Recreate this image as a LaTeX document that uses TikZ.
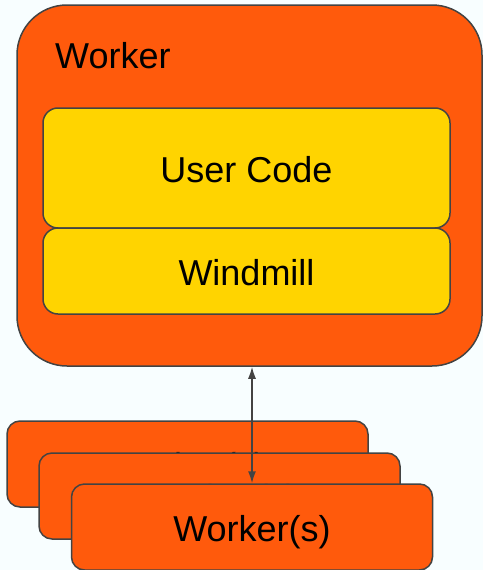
\documentclass[tikz,border=0pt]{standalone}
\usepackage{fontspec}
\setmainfont{Liberation Sans}
\usepackage{xcolor}
\usepackage{tikz}
\usetikzlibrary{arrows.meta}
\definecolor{wbg}{HTML}{F8FEFF}
\definecolor{worange}{HTML}{FF5A0C}
\definecolor{wyellow}{HTML}{FFD400}
\definecolor{wline}{HTML}{434343}

\begin{document}
\begin{tikzpicture}[x=1pt,y=-1pt,
   box/.style={draw=wline,line width=1.5pt,fill=worange,rounded corners=13pt,minimum width=361pt,minimum height=86pt,inner sep=0pt,text height=28.5pt,text depth=0pt,font=\fontsize{36}{40}\selectfont},
   layer/.style={box,fill=wyellow,rounded corners=15pt,minimum width=407pt},
   link/.style={draw=wline,line width=1.5pt,{Latex[length=12pt,width=8pt]}-{Latex[length=12pt,width=8pt]}}]
   \fill[wbg] (0,0) rectangle (483,570);
   \useasboundingbox (0,0) rectangle (483,570);
   % the worker and its layers
   \node[box,rounded corners=50pt,minimum width=465pt,minimum height=361pt] (worker) at (249.5,185.5) {};
   \node[anchor=base west,inner sep=0pt,font=\fontsize{36}{40}\selectfont] (workerlabel) at (55,68) {Worker};
   \node[layer,minimum height=120pt] (usercode) at (246.5,168) {User Code};
   \node[layer] (windmill) at (246.5,271) {Windmill};
   % the other workers
   \node[box] (back) at (187.5,464) {Worker(s)};
   \node[box] (middle) at (219.5,496) {Worker(s)};
   \node[box] (front) at (252,527) {Worker(s)};
   \draw[link] (front.north |- worker.south) -- (front.north);
\end{tikzpicture}
\end{document}
